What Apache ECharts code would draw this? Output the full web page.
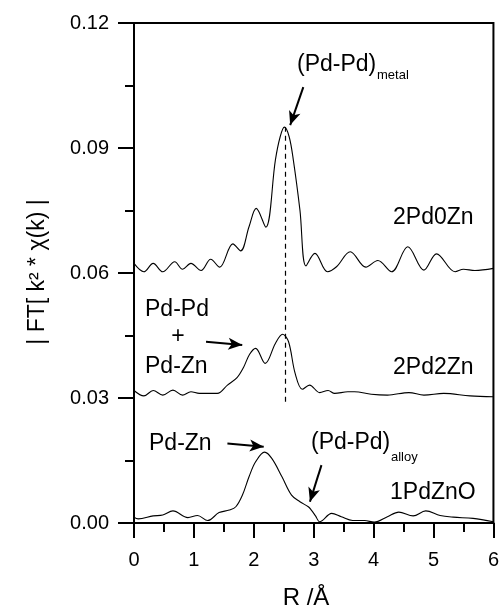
<!DOCTYPE html>
<html><head><meta charset="utf-8">
<script src="https://cdn.jsdelivr.net/npm/echarts@6/dist/echarts.min.js"></script>
<style>html,body{margin:0;padding:0;background:#fff}#c{width:502px;height:611px}</style>
</head><body><div id="c"></div>
<script>
// 2Pd0Zn
const r_2Pd0Zn = [0, 0.165, 0.32, 0.48, 0.68, 0.81, 0.95, 1.12, 1.28, 1.43, 1.65, 1.78, 1.92, 2.04, 2.20, 2.36, 2.44, 2.51, 2.59, 2.66, 2.77, 2.87, 3.02, 3.23, 3.38, 3.61, 3.87, 4.07, 4.30, 4.57, 4.84, 5.05, 5.36, 5.50, 5.69, 6.0];
const v_2Pd0Zn = [0.0623, 0.0603, 0.0623, 0.0603, 0.0627, 0.0609, 0.0623, 0.0606, 0.0633, 0.0614, 0.0670, 0.0653, 0.0711, 0.0755, 0.0710, 0.0871, 0.0927, 0.0950, 0.0927, 0.0871, 0.0751, 0.0617, 0.0647, 0.0603, 0.0615, 0.0651, 0.0614, 0.0630, 0.0603, 0.0663, 0.0607, 0.0646, 0.0603, 0.0609, 0.0606, 0.0611];
// 2Pd2Zn
const r_2Pd2Zn = [0, 0.165, 0.32, 0.48, 0.65, 0.81, 0.95, 1.09, 1.39, 1.56, 1.72, 1.83, 1.93, 2.03, 2.19, 2.36, 2.48, 2.58, 2.69, 2.81, 2.93, 3.10, 3.24, 3.35, 3.57, 3.68, 3.96, 4.23, 4.59, 4.84, 5.17, 5.61, 6.0];
const v_2Pd2Zn = [0.0318, 0.0305, 0.0318, 0.0307, 0.0319, 0.0307, 0.0315, 0.0311, 0.0311, 0.0331, 0.0349, 0.0374, 0.0405, 0.0419, 0.0383, 0.0431, 0.0453, 0.0435, 0.0359, 0.0321, 0.0331, 0.0313, 0.0318, 0.0311, 0.0315, 0.0315, 0.0309, 0.0307, 0.0313, 0.0307, 0.0311, 0.0305, 0.0303];
// 1PdZnO
const r_1PdZnO = [0, 0.07, 0.32, 0.48, 0.65, 0.90, 1.06, 1.23, 1.42, 1.59, 1.70, 1.81, 1.92, 2.03, 2.18, 2.30, 2.47, 2.63, 2.77, 2.91, 2.96, 3.03, 3.10, 3.30, 3.46, 3.65, 3.85, 4.01, 4.23, 4.42, 4.66, 4.87, 5.11, 5.33, 5.66, 6.0];
const v_1PdZnO = [0.0014, 0.0010, 0.0017, 0.0019, 0.0029, 0.0013, 0.0018, 0.0006, 0.0025, 0.0031, 0.0039, 0.0067, 0.0111, 0.0147, 0.0170, 0.0155, 0.0111, 0.0067, 0.0051, 0.0039, 0.0031, 0.0017, 0.0003, 0.0023, 0.0015, 0.0006, 0.0006, 0.0002, 0.0015, 0.0026, 0.0017, 0.0029, 0.0018, 0.0014, 0.0011, 0.0003];

const xTicks = [0, 1, 2, 3, 4, 5, 6];
const yTicks = [0, 0.03, 0.06, 0.09, 0.12];

// annotation arrows: [from, to] in data coords
const arrows = [
  [[2.826, 0.1046], [2.607, 0.0955]],
  [[1.202, 0.0435], [1.807, 0.0427]],
  [[1.559, 0.0191], [2.165, 0.0183]],
  [[3.129, 0.0139], [2.937, 0.0051]]
];
const dashLine = [[2.52, 0.0291], [2.52, 0.0950]];

const zip = (a, b) => a.map((x, i) => [x, b[i]]);
const FONT = '"Liberation Sans", Arial, sans-serif';

const chart = echarts.init(document.getElementById('c'), null, {renderer: 'canvas'});
const lineStyle = {color: '#000', width: 1.1};
function mkSeries(name, data, extra) {
  return Object.assign({
    name, type: 'line', data, smooth: 0.35, showSymbol: false, symbol: 'none',
    lineStyle, silent: true, animation: false
  }, extra || {});
}
const t = (text, x, y, size, align) => ({
  type: 'text', x, y, silent: true,
  style: {text, fontSize: size, fontFamily: FONT, fill: '#000', align: align || 'left', verticalAlign: 'middle'}
});

chart.setOption({
  animation: false,
  grid: {left: 134, top: 23, width: 363, height: 500, show: true, borderColor: '#000', borderWidth: 2, backgroundColor: 'transparent'},
  xAxis: {
    type: 'value', min: 0, max: 6, interval: 1,
    axisLine: {show: true, lineStyle: {color: '#000', width: 2}},
    axisTick: {show: true, length: 15, lineStyle: {color: '#000', width: 2}},
    minorTick: {show: true, splitNumber: 2, length: 9, lineStyle: {color: '#000', width: 2}},
    axisLabel: {color: '#000', fontSize: 20, fontFamily: FONT, margin: 27,
      formatter: v => xTicks.includes(v) ? String(v) : ''},
    splitLine: {show: false}
  },
  yAxis: {
    type: 'value', min: 0, max: 0.12, interval: 0.03,
    axisLine: {show: true, lineStyle: {color: '#000', width: 2}},
    axisTick: {show: true, length: 16, lineStyle: {color: '#000', width: 2}},
    minorTick: {show: true, splitNumber: 2, length: 9, lineStyle: {color: '#000', width: 2}},
    axisLabel: {color: '#000', fontSize: 20, fontFamily: FONT, margin: 25,
      formatter: v => yTicks.some(y => Math.abs(y - v) < 1e-9) ? v.toFixed(2) : ''},
    splitLine: {show: false}
  },
  series: [
    mkSeries('2Pd0Zn', zip(r_2Pd0Zn, v_2Pd0Zn), {
      markLine: {
        silent: true, animation: false, label: {show: false},
        symbol: ['none', 'arrow'], symbolSize: [9, 14],
        lineStyle: {color: '#000', width: 2, type: 'solid'},
        data: arrows.map(a => [{coord: a[0]}, {coord: a[1]}]).concat([
          [{coord: dashLine[0], symbol: 'none', lineStyle: {type: [5, 4], width: 1.2}},
           {coord: dashLine[1], symbol: 'none'}]
        ])
      }
    }),
    mkSeries('2Pd2Zn', zip(r_2Pd2Zn, v_2Pd2Zn)),
    mkSeries('1PdZnO', zip(r_1PdZnO, v_1PdZnO))
  ],
  graphic: [
    t('(Pd-Pd)', 297, 65, 23),
    t('metal', 377, 75, 13),
    t('2Pd0Zn', 393, 218, 23),
    t('Pd-Pd', 145, 310, 23),
    t('+', 178, 337, 23, 'center'),
    t('Pd-Zn', 145, 367, 23),
    t('2Pd2Zn', 393, 368, 23),
    t('Pd-Zn', 149, 444, 23),
    t('(Pd-Pd)', 311, 443, 23),
    t('alloy', 391, 457, 13),
    t('1PdZnO', 390, 493, 23),
    t('R /Å', 306, 598, 24, 'center'),
    {type: 'text', x: 38, y: 272, rotation: Math.PI / 2, silent: true,
     style: {text: '| FT[ k² * χ(k) |', fontSize: 23, fontFamily: FONT, fill: '#000', align: 'center', verticalAlign: 'middle'}}
  ]
});
</script></body></html>
